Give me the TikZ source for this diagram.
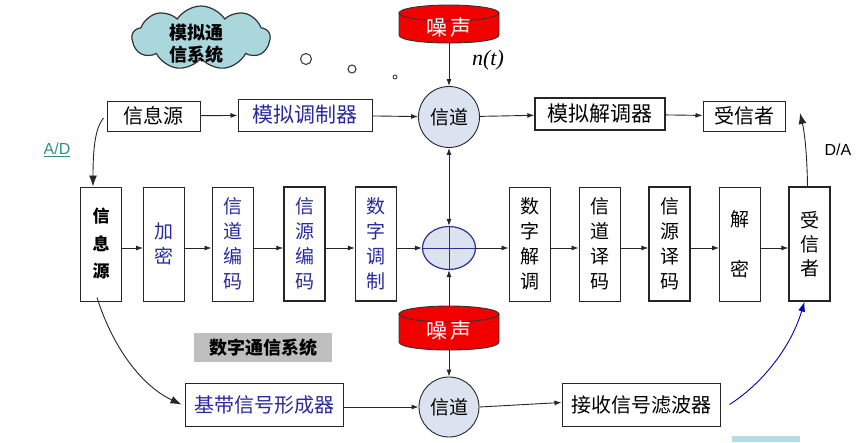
\documentclass[tikz,border=0pt]{standalone}
\usepackage{fontspec}
\newfontfamily\cjk{Noto Sans CJK SC}
\newfontfamily\arialf{Liberation Sans}
\newfontfamily\timesf{Liberation Serif}
\usetikzlibrary{shapes.geometric,shapes.symbols,arrows.meta}
\definecolor{boxblue}{HTML}{2A2A9C}
\definecolor{chanfill}{HTML}{DCE3F0}
\definecolor{cloudfill}{HTML}{A9D7DB}
\definecolor{adteal}{HTML}{2E8F8A}
\definecolor{noisered}{HTML}{F20000}
\definecolor{sumblue}{HTML}{2E3192}
\definecolor{grayfill}{HTML}{BFBFBF}
\definecolor{cyanpart}{HTML}{B4DEE2}
\tikzset{
  hbox/.style={draw=black!85, line width=1pt, fill=white, inner sep=0pt,
    font=\cjk\fontsize{20}{24}\selectfont},
  vbox/.style={draw=black!85, line width=1pt, fill=white, inner sep=0pt,
    minimum width=41pt, minimum height=114pt, align=center,
    font=\cjk\fontsize{19}{25}\selectfont},
  chan/.style={circle, draw=black!85, line width=0.9pt, fill=chanfill,
    minimum size=61pt, inner sep=0pt, font=\cjk\fontsize{19}{22}\selectfont},
  arr/.style={-{Latex[length=7pt,width=5pt]}, line width=0.9pt, black!85},
  bigarr/.style={-{Latex[length=11pt,width=8pt]}, line width=0.9pt, black!85},
  bubble/.style={circle, draw=black!75, line width=1.1pt, fill=white, inner sep=0pt},
  noisetxt/.style={text=white, font=\cjk\fontsize{21}{24}\selectfont, inner sep=0pt},
  cylline/.style={draw=black!80, line width=0.9pt, fill=noisered}
}
\begin{document}
\begin{tikzpicture}[x=1pt,y=-1pt]
\useasboundingbox (0,0) rectangle (867,442);

% cloud
\node[cloud, cloud puffs=9, cloud puff arc=115, aspect=2.1, draw=black!80, line width=1.2pt,
  fill=cloudfill, minimum width=138pt, minimum height=64pt, inner sep=0pt] (cloud) at (201,38) {};
\node[font=\cjk\bfseries\fontsize{18}{22}\selectfont, align=center] (cloudtxt) at (196,44) {模拟通\\信系统};
\node[bubble, minimum size=11pt] (b1) at (306,59) {};
\node[bubble, minimum size=8pt] (b2) at (352,69) {};
\node[bubble, minimum size=4pt, line width=0.9pt] (b3) at (395,77) {};

% noise cylinder 1
\path[cylline] (399,13) -- (399,35) .. controls (399,45.7) and (499,45.7) .. (499,35) -- (499,13) -- cycle;
\path[cylline] (449,13) ellipse [x radius=50, y radius=8];
\node[noisetxt] (noise1) at (449,28) {噪\hspace{3pt}声};
\coordinate (n1bot) at (449,43);
\node[font=\timesf\itshape\fontsize{22}{26}\selectfont, inner sep=0pt] (nt) at (488,60) {n(t)};

% top row
\node[hbox, minimum width=93pt, minimum height=30pt] (src1) at (153.5,116) {信息源};
\node[hbox, minimum width=134pt, minimum height=32pt, text=boxblue, font=\cjk\fontsize{21}{24}\selectfont] (mod) at (305,115) {模拟调制器};
\node[chan] (chan1) at (449,117) {信道};
\node[hbox, minimum width=130pt, minimum height=32pt, line width=1.3pt, font=\cjk\fontsize{21}{24}\selectfont] (demod) at (600,114) {模拟解调器};
\node[hbox, minimum width=82pt, minimum height=30pt] (recv1) at (744,116) {受信者};

\draw[arr] (n1bot) -- (chan1.north);
\draw[arr] (src1) -- (mod);
\draw[arr] (mod) -- (chan1);
\draw[arr] (chan1) -- (demod);
\draw[arr] (demod) -- (recv1);

% labels
\node[font=\arialf\fontsize{16}{18}\selectfont, text=adteal, inner sep=0pt] (ad) at (57,150) {\underline{A/D}};
\node[font=\arialf\fontsize{16}{18}\selectfont, inner sep=0pt] (da) at (838,150) {D/A};

% middle row
\node[vbox, font=\cjk\bfseries\fontsize{17}{27.5}\selectfont] (dsrc) at (101,244) {信\\息\\源};
\node[vbox, text=boxblue] (enc) at (164,244) {加\\密};
\node[vbox, text=boxblue] (cc) at (232.5,244) {信\\道\\编\\码};
\node[vbox, text=boxblue, line width=1.4pt] (sc) at (304.5,244) {信\\源\\编\\码};
\node[vbox, text=boxblue, line width=1.2pt] (dm) at (376,244) {数\\字\\调\\制};
\node[ellipse, draw=sumblue, line width=1.2pt, fill=chanfill, minimum width=53pt,
  minimum height=43pt, inner sep=0pt] (sum) at (449,248) {};
\draw[sumblue, line width=1pt] (sum.west) -- (sum.east) (sum.north) -- (sum.south);
\node[vbox] (ddm) at (529.5,244) {数\\字\\解\\调};
\node[vbox] (cd) at (599.5,244) {信\\道\\译\\码};
\node[vbox, line width=1.2pt] (sd) at (669.5,244) {信\\源\\译\\码};
\node[vbox] (dec) at (740,244) {解\\[25pt]密};
\node[vbox, line width=1.2pt, font=\cjk\fontsize{19}{24}\selectfont] (drecv) at (809.5,244) {受\\信\\者};

\foreach \a/\b in {dsrc/enc, enc/cc, cc/sc, sc/dm, ddm/cd, cd/sd, sd/dec, dec/drecv}
  \draw[arr] ([yshift=-4pt]\a.east) -- ([yshift=-4pt]\b.west);
\draw[arr] (dm.east |- sum.west) -- (sum.west);
\draw[arr] (sum.east) -- (ddm.west |- sum.east);
\draw[{Latex[length=7pt,width=5pt]}-{Latex[length=7pt,width=5pt]}, line width=0.9pt, black!85] (chan1.south) -- (sum.north);

% noise cylinder 2
\path[cylline] (399,314) -- (399,342) .. controls (399,352.7) and (499,352.7) .. (499,342) -- (499,314) -- cycle;
\path[cylline] (449,314) ellipse [x radius=50, y radius=8];
\node[noisetxt] (noise2) at (449,331) {噪\hspace{3pt}声};
\coordinate (n2top) at (449,306);
\coordinate (n2bot) at (449,350);
\draw[arr] (n2top) -- (sum.south);

% bottom row
\node[fill=grayfill, minimum width=138pt, minimum height=29pt, inner sep=0pt,
  font=\cjk\bfseries\fontsize{18}{20}\selectfont] (dsys) at (263,347.5) {数字通信系统};
\node[hbox, minimum width=158pt, minimum height=43pt, text=boxblue] (base) at (264,404.5) {基带信号形成器};
\node[chan, minimum size=60pt] (chan2) at (449,407) {信道};
\node[hbox, minimum width=158pt, minimum height=43pt] (filt) at (641,404.5) {接收信号滤波器};
\draw[arr] (n2bot) -- (chan2.north);
\draw[arr] (base.east |- chan2.west) -- (chan2.west);
\draw[arr] (chan2.east) -- ([yshift=2pt]filt.west);

% curved connectors
\draw[bigarr] ([xshift=-3pt,yshift=-2pt]src1.west) .. controls (95,128) and (93,150) .. ([xshift=-8pt]dsrc.north);
\draw[bigarr] ([xshift=-2pt]drecv.north) .. controls (807,150) and (804,130) .. (800,113);
\draw[bigarr] ([xshift=-4pt,yshift=4pt]dsrc.south) .. controls (112,345) and (140,385) .. ([xshift=-3pt]base.west);
\draw[-{Latex[length=10pt,width=7pt]}, line width=0.9pt, blue!70!black]
  ([xshift=9pt]filt.east) .. controls (760,385) and (790,350) .. ([xshift=-5pt]drecv.south);

% partial box at bottom edge
\fill[cyanpart] (732,436) rectangle (800,442);
\end{tikzpicture}
\end{document}
